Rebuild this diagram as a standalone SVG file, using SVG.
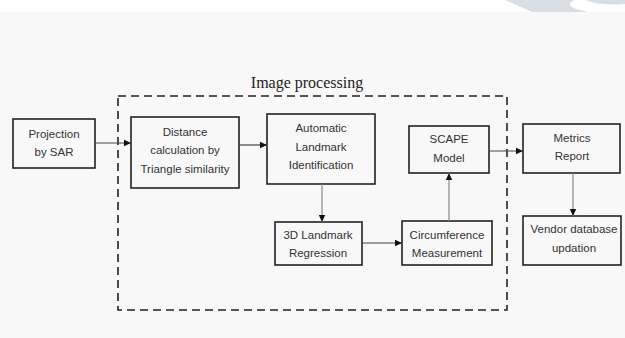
<svg xmlns="http://www.w3.org/2000/svg" width="625" height="338" viewBox="0 0 625 338">
<defs>
<marker id="ah" markerWidth="8" markerHeight="8" refX="7" refY="4" orient="auto" markerUnits="userSpaceOnUse">
<path d="M0,0.8 L7,4 L0,7.2 Z" fill="#111"/>
</marker>
<style>
.box{fill:none;stroke:#222;stroke-width:1.6}
.t{font-family:"Liberation Sans",Arial,sans-serif;font-size:11.5px;fill:#333;text-anchor:middle}
.ttl{font-family:"Liberation Serif","Times New Roman",serif;font-size:16px;fill:#222;text-anchor:middle}
.c{fill:none;stroke:#444;stroke-width:1.2;marker-end:url(#ah)}
.g{fill:none;stroke:#888;stroke-width:1.2;marker-end:url(#ah)}
</style>
</defs>
<rect x="0" y="0" width="625" height="338" fill="#f8f8f8"/>
<rect x="0" y="0" width="625" height="12" fill="#ffffff"/>
<path d="M505,0 L532,12 L588,12 Q560,6 575,0 Z" fill="#d7dfe4"/>
<path d="M585,0 Q600,6 625,4 L625,0 Z" fill="#d7dfe4"/>
<g id="image-processing">
<rect x="118" y="96" width="389" height="214" fill="none" stroke="#222" stroke-width="1.6" stroke-dasharray="8,5"/>
<text class="ttl" x="307" y="88">Image processing</text>
</g>
<g id="projection">
<rect class="box" x="13" y="119" width="82" height="49"/>
<text class="t" x="54" y="138">Projection</text>
<text class="t" x="54" y="156">by SAR</text>
</g>
<g id="distance">
<rect class="box" x="131" y="117" width="108" height="71"/>
<text class="t" x="185" y="136">Distance</text>
<text class="t" x="185" y="154">calculation by</text>
<text class="t" x="185" y="173">Triangle similarity</text>
</g>
<g id="automatic">
<rect class="box" x="267" y="114" width="108" height="70"/>
<text class="t" x="321" y="132">Automatic</text>
<text class="t" x="321" y="151">Landmark</text>
<text class="t" x="321" y="169">Identification</text>
</g>
<g id="landmark3d">
<rect class="box" x="275" y="222" width="87" height="43"/>
<text class="t" x="318" y="239">3D Landmark</text>
<text class="t" x="318" y="257">Regression</text>
</g>
<g id="circumference">
<rect class="box" x="402" y="221" width="90" height="44"/>
<text class="t" x="447" y="239">Circumference</text>
<text class="t" x="447" y="257">Measurement</text>
</g>
<g id="scape">
<rect class="box" x="409" y="126" width="80" height="47"/>
<text class="t" x="449" y="143">SCAPE</text>
<text class="t" x="449" y="162">Model</text>
</g>
<g id="metrics">
<rect class="box" x="523" y="124" width="97" height="49"/>
<text class="t" x="572" y="142">Metrics</text>
<text class="t" x="572" y="160">Report</text>
</g>
<g id="vendor">
<rect class="box" x="523" y="216" width="98" height="49"/>
<text class="t" x="574" y="233">Vendor database</text>
<text class="t" x="574" y="252">updation</text>
</g>
<g id="connectors">
<line class="c" x1="95" y1="143" x2="131" y2="143"/>
<line class="c" x1="239" y1="145" x2="267" y2="145"/>
<line class="g" x1="322" y1="184" x2="322" y2="222"/>
<line class="c" x1="362" y1="243" x2="402" y2="243"/>
<line class="g" x1="449" y1="221" x2="449" y2="173"/>
<line class="c" x1="489" y1="151" x2="523" y2="151"/>
<line class="g" x1="573" y1="173" x2="573" y2="216"/>
</g>
</svg>
